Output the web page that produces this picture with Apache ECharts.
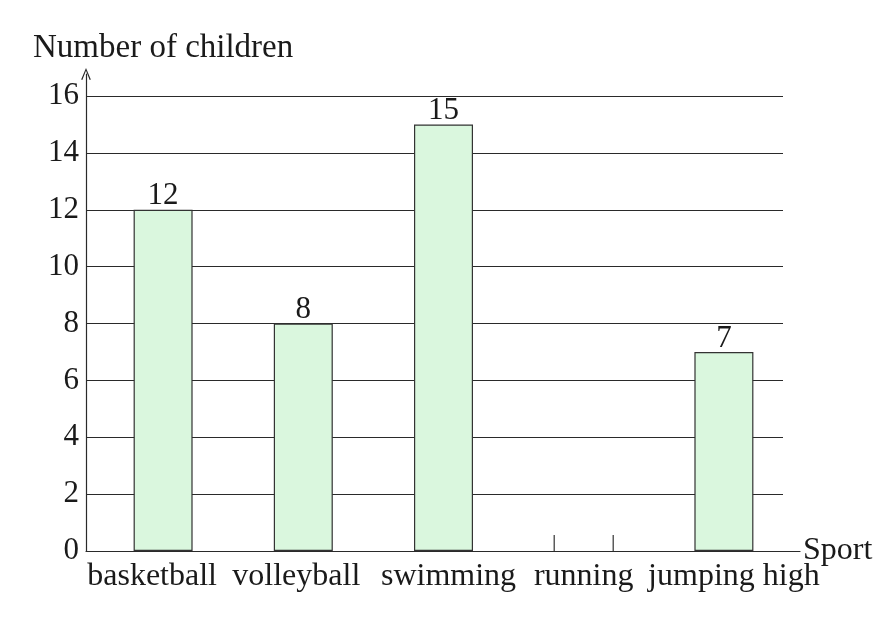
<!DOCTYPE html>
<html>
<head>
<meta charset="utf-8">
<script src="https://cdn.jsdelivr.net/npm/echarts@6/dist/echarts.min.js"></script>
<style>
  html, body { margin: 0; padding: 0; background: #fff; }
  #chart { width: 884px; height: 628px; }
</style>
</head>
<body>
<div id="chart"></div>
<script>
// data
const sports = ['basketball', 'volleyball', 'swimming', 'running', 'jumping high'];
const children = [12, 8, 15, null, 7];   // running is left blank in the picture
const yTicks = [0, 2, 4, 6, 8, 10, 12, 14, 16];

const serif = 'Liberation Serif';
const ink = '#1a1a1a';
const lineCol = '#2a2a2a';
const barWidth = 59;

// small sideways nudges so labels sit like the printed row of words
const labelShift = [-11, -7, 5, 0, 10];

const chart = echarts.init(document.getElementById('chart'));

chart.setOption({
  animation: false,
  title: {
    text: 'Number of children',
    left: 28,
    top: 27,
    textStyle: { fontFamily: serif, fontSize: 33, fontWeight: 'normal', color: ink }
  },
  grid: [
    { left: 86, right: 101, top: 96, bottom: 77 },   // tick labels + grid lines
    { left: 93, right: 90, top: 96, bottom: 77 },    // bars
    { left: 86, right: 84, top: 74, bottom: 77 }     // axis lines with arrow
  ],
  xAxis: [
    { gridIndex: 0, type: 'value', min: 0, max: 1, show: false },
    {
      gridIndex: 1,
      type: 'category',
      data: sports.map((s, i) => ({
        value: s,
        textStyle: {
          padding: labelShift[i] < 0 ? [0, -2 * labelShift[i], 0, 0] : [0, 0, 0, 2 * labelShift[i]]
        }
      })),
      axisLine: { show: false },
      axisTick: { show: false },
      axisLabel: { margin: 10, fontFamily: serif, fontSize: 32, color: ink, interval: 0 }
    },
    {
      gridIndex: 2,
      type: 'value', min: 0, max: 1,
      axisLine: { show: true, lineStyle: { color: lineCol, width: 1.2 } },
      axisTick: { show: false },
      axisLabel: { show: false },
      splitLine: { show: false },
      name: 'Sport',
      nameLocation: 'end',
      nameGap: 3,
      nameTextStyle: { fontFamily: serif, fontSize: 32, color: ink, padding: [0, 0, 12, 0] }
    }
  ],
  yAxis: [
    {
      gridIndex: 0,
      type: 'value', min: 0, max: 16, interval: 2,
      axisLine: { show: false },
      axisTick: { show: false },
      axisLabel: {
        margin: 7, fontFamily: serif, fontSize: 31, color: ink, padding: [8, 0, 0, 0],
        formatter: v => (yTicks.indexOf(v) >= 0 ? String(v) : '')
      },
      splitLine: { show: true, lineStyle: { color: lineCol, width: 1.2 } }
    },
    { gridIndex: 1, type: 'value', min: 0, max: 16, show: false },
    {
      gridIndex: 2,
      type: 'value', min: 0, max: 1,
      axisLine: {
        show: true,
        lineStyle: { color: lineCol, width: 1.2 },
        symbol: ['none', 'path://M0,12 L5,0 L10,12 L8.8,12.4 L5,2.8 L1.2,12.4 Z'],
        symbolSize: [10, 12]
      },
      axisTick: { show: false },
      axisLabel: { show: false },
      splitLine: { show: false }
    }
  ],
  series: [
    {
      type: 'bar',
      xAxisIndex: 1,
      yAxisIndex: 1,
      data: children,
      barWidth: barWidth,
      itemStyle: { color: '#daf7de', borderColor: '#333', borderWidth: 1.2 },
      label: {
        show: true,
        position: 'top',
        distance: -2,
        fontFamily: serif,
        fontSize: 31,
        color: ink
      }
    },
    {
      // the two short stubs marking the empty "running" bar
      type: 'custom',
      xAxisIndex: 1,
      yAxisIndex: 1,
      data: sports.map((s, i) => [i, children[i] == null ? 1 : 0]),
      renderItem: function (params, api) {
        if (!api.value(1)) return;
        const p = api.coord([api.value(0), 0]);
        const h = 16;
        const half = barWidth / 2;
        const st = { stroke: '#333', lineWidth: 1.2 };
        return {
          type: 'group',
          children: [
            { type: 'line', shape: { x1: p[0] - half, y1: p[1], x2: p[0] - half, y2: p[1] - h }, style: st },
            { type: 'line', shape: { x1: p[0] + half, y1: p[1], x2: p[0] + half, y2: p[1] - h }, style: st }
          ]
        };
      }
    }
  ]
});
</script>
</body>
</html>
